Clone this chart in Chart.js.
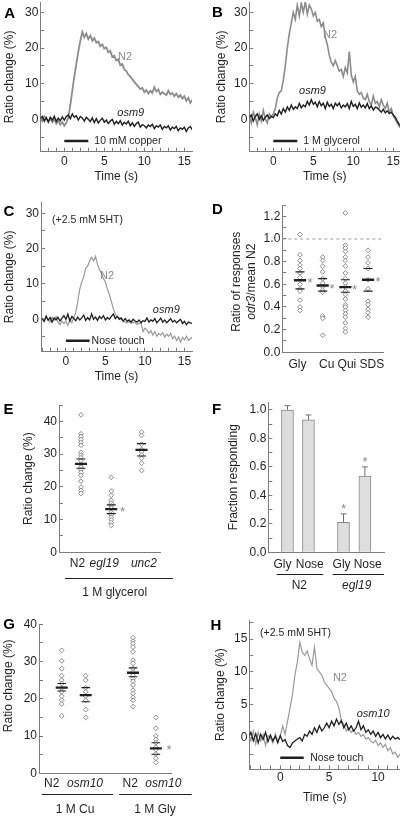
<!DOCTYPE html>
<html>
<head>
<meta charset="utf-8">
<script src="https://cdn.jsdelivr.net/npm/chart.js@4"></script>
<style>
  body { margin: 0; background: #fff; width: 400px; height: 816px; position: relative; overflow: hidden; }
  canvas { position: absolute; }
</style>
</head>
<body>
<canvas id="pA" width="200" height="200" style="left:0;top:0"></canvas>
<canvas id="pB" width="200" height="200" style="left:200px;top:0"></canvas>
<canvas id="pC" width="200" height="200" style="left:0;top:200px"></canvas>
<canvas id="pD" width="200" height="200" style="left:200px;top:200px"></canvas>
<canvas id="pE" width="200" height="210" style="left:0;top:400px"></canvas>
<canvas id="pF" width="200" height="210" style="left:200px;top:400px"></canvas>
<canvas id="pG" width="200" height="206" style="left:0;top:610px"></canvas>
<canvas id="pH" width="200" height="206" style="left:200px;top:610px"></canvas>
<script>
// ---- data ----
const DT = 0.25; // sampling step of the traces, s

// A: 10 mM copper, traces start at -3 s
const a_t0 = -3;
const a_N2 = [0.5, -0.5, 0.8, 0.2, -0.6, 0.3, -0.8, 0, -1.2, -0.4, -1.5, -0.8,
  -1.8, -1.0, 0.5, 4, 8, 12, 15.5, 19, 22, 24.5, 23, 24,
  22.5, 23.5, 22, 22.8, 21.5, 21.8, 20.5, 21, 19.8, 20.2, 18.8, 19.2,
  17.5, 17.8, 16.5, 16.8, 15.2, 15.5, 14, 13.5, 12.5, 12, 11.2, 10.5,
  9.8, 9.2, 8.5, 8.8, 7.6, 8.2, 7.2, 8.0, 7.4, 9.0, 7.8, 8.4,
  7.0, 7.6, 7.2, 6.8, 8.0, 7.0, 7.4, 6.5, 7.2, 6.2, 6.8, 5.8,
  6.5, 5.2, 6.0, 4.6, 5.4];
const a_osm9 = [0.2, 0.8, -0.5, 0.5, -0.8, 0.6, -0.2, 0.9, -0.6, 0.3, -0.4, 0.7,
  -0.2, 0.8, 1.2, 0.2, 1.5, 0.6, 1.0, -0.2, 0.8, 0.4, -0.5, 0.6,
  0.0, -0.6, 0.4, -0.9, 0.2, -1.0, -0.3, 0.3, -0.8, -0.2, -1.2, -0.5,
  0.0, -1.4, -0.6, -1.2, -0.4, -1.6, -0.8, -1.3, -0.5, -1.8, -1.0, -2.0,
  -1.2, -0.8, -2.2, -1.5, -1.8, -2.4, -1.6, -2.0, -1.4, -2.6, -1.8, -2.2,
  -1.6, -2.8, -2.0, -2.4, -1.8, -3.0, -2.2, -2.6, -2.0, -3.2, -2.4, -2.8,
  -2.2, -3.4, -2.4, -2.0, -3.0];

// B: 1 M glycerol
const b_t0 = -3;
const b_N2 = [1.0, -1.0, 2.0, 0.5, -1.5, 1.5, -0.5, 2.5, 0.0, -1.0, 1.5, 0.8,
  1.5, 3.0, 6.0, 7.5, 8.0, 11.0, 15.0, 20.0, 24.0, 27.0, 30.0, 28.0,
  32.0, 29.0, 32.5, 30.0, 33.0, 29.5, 32.0, 31.0, 29.0, 30.0, 27.5, 28.0,
  26.0, 27.0, 23.0, 21.0, 18.0, 16.0, 15.0, 16.5, 15.0, 13.5, 14.0, 12.0,
  14.5, 13.0, 19.0, 12.5, 10.5, 12.0, 8.0, 7.0, 7.5, 6.0, 5.5, 7.0,
  5.0, 4.0, 6.5, 4.5, 5.0, 3.5, 5.5, 4.0, 3.0, 4.5, 2.0, 3.0,
  1.0, 0.0, -1.0, -2.0, -2.5];
const b_osm9 = [0.5, 1.2, -0.5, 0.8, 1.5, 0.0, 1.0, -0.3, 0.6, 1.2, 0.2, 0.8,
  0.5, 1.5, 1.0, 2.5, 1.5, 3.0, 2.0, 3.5, 2.5, 4.0, 2.8, 3.5,
  3.0, 4.5, 3.2, 4.0, 3.5, 5.0, 4.0, 5.5, 4.2, 4.8, 3.5, 5.0,
  3.8, 4.5, 3.0, 4.8, 3.6, 4.2, 3.0, 4.5, 3.8, 4.6, 3.2, 4.0,
  3.5, 4.4, 3.0, 5.0, 3.6, 4.2, 3.0, 4.6, 3.4, 4.0, 3.2, 4.4,
  3.0, 3.8, 2.6, 3.4, 3.2, 2.6, 2.0, 2.8, 1.8, 2.4, 1.6, 2.0,
  1.2, 0.6, -0.5, -1.5, -2.0];

// C: nose touch (+2.5 mM 5HT)
const c_t0 = -3;
const c_N2 = [0.5, -0.5, 1.0, 0.0, -0.8, 0.6, -0.3, 0.8, -0.8, -1.5, -0.5, -1.2,
  -0.5, -1.8, 0.0, -1.0, 0.5, 2.0, 5.0, 8.5, 10.5, 12.0, 14.5, 15.0,
  16.5, 17.5, 16.5, 17.8, 15.5, 14.0, 13.0, 11.5, 10.5, 8.5, 7.0, 5.0,
  3.0, 1.5, 0.5, 0.5, 0.0, -0.5, -0.8, -1.0, -0.6, -1.2, -0.8, -1.0,
  -1.5, -1.2, -1.0, -3.5, -2.5, -3.0, -4.0, -3.2, -4.5, -3.5, -4.8, -4.0,
  -4.5, -3.8, -5.0, -4.2, -4.8, -4.0, -5.5, -4.8, -6.0, -5.0, -6.5, -5.2,
  -5.8, -4.8, -6.0, -5.5, -5.0];
const c_osm9 = [0.2, -0.6, 0.8, -0.3, 0.5, -0.8, 0.4, -0.2, 0.6, -0.5, 0.3, 1.0,
  0.0, 1.5, -0.5, 0.8, 0.2, -0.4, 0.6, -0.2, 0.4, 1.2, -0.3, 0.5,
  -0.2, 1.5, 0.0, 0.6, -0.3, 0.8, 0.2, 1.0, -0.2, 0.5, 0.0, 0.8,
  1.5, 0.2, 0.8, 0.0, 0.4, -0.5, 0.2, -0.6, -0.2, -0.8, 0.0, -0.5,
  -0.8, -0.2, -1.0, -0.4, -0.6, 0.4, -0.8, -0.2, -0.6, 0.2, -1.0, -0.4,
  0.3, -0.8, -0.2, -1.0, -0.4, 0.2, -0.8, -0.3, -1.0, -0.5, 0.0, -1.2,
  -0.6, -1.5, -0.8, -1.0, -1.2];

// D: odr3 / mean N2
const d_groups = ['Gly', 'Cu', 'Qui', 'SDS'];
const d_pos = [1, 2, 3, 4];
const d_labelPos = [0.89, 2.18, 3.07, 4.17];
const d_Gly = [1.04, 0.86, 0.81, 0.77, 0.74, 0.70, 0.66, 0.60, 0.56, 0.54, 0.46, 0.40, 0.37];
const d_Cu = [0.84, 0.81, 0.76, 0.71, 0.65, 0.61, 0.58, 0.55, 0.53, 0.32, 0.30, 0.15];
const d_Qui = [1.23, 0.945, 0.92, 0.89, 0.84, 0.81, 0.76, 0.70, 0.65, 0.61, 0.58, 0.54, 0.51,
  0.47, 0.42, 0.40, 0.37, 0.34, 0.31, 0.26, 0.21, 0.18];
const d_SDS = [0.90, 0.84, 0.79, 0.74, 0.64, 0.56, 0.45, 0.42, 0.38, 0.35, 0.31];
const d_mean = [0.636, 0.59, 0.575, 0.64];
const d_semHi = [0.71, 0.65, 0.64, 0.74];
const d_semLo = [0.56, 0.54, 0.53, 0.54];

// E: 1 M glycerol
const e_groups = ['N2', 'egl19', 'unc2'];
const e_pos = [1, 2, 3];
const e_labelPos = [0.885, 1.766, 3.08];
const e_N2 = [42, 36.2, 35.4, 34.4, 33.5, 32.7, 30.5, 29.7, 28.9, 27.9, 26.9, 26, 25.2, 24.4, 23.5, 21.7, 19.9, 18.9, 18];
const e_egl19 = [22.9, 18.7, 17.4, 15.9, 15, 14.2, 13.5, 12.2, 11.5, 10.7, 9.9, 9, 8.2];
const e_unc2 = [36.7, 35.7, 33, 31.4, 30.7, 29.7, 28.7, 27.2, 25];
const e_mean = [27, 13.2, 31.3];
const e_semHi = [28.5, 14.5, 33.2];
const e_semLo = [25.7, 11.8, 29.4];

// F: fraction responding
const f_labels = ['Gly', 'Nose', 'Gly', 'Nose'];
const f_pos = [1, 2, 3.67, 4.69];
const f_labelPos = [0.76, 2.06, 3.58, 4.82];
const f_frac = [1.0, 0.93, 0.21, 0.535];
const f_err = [0.03, 0.035, 0.06, 0.065];

// G: osm10
const g_labels = ['N2', 'osm10', 'N2', 'osm10'];
const g_pos = [1, 2, 3.97, 4.92];
const g_labelPos = [0.583, 1.97, 3.85, 5.23];
const g_N2Cu = [33, 30.2, 28.1, 26.2, 25, 24.1, 22.8, 21.9, 20.7, 19.6, 18.6, 15.4];
const g_osm10Cu = [26.2, 25, 23, 21.9, 20.7, 19.6, 17.1, 15];
const g_N2Gly = [36.4, 35.5, 34.8, 33.9, 32.6, 30.4, 29.5, 28.1, 27.2, 26.3, 25.4, 24.7, 23.7, 22.3, 21.4, 20.4, 19.6, 17.9];
const g_osm10Gly = [15, 12.1, 10, 9.1, 8.2, 7, 6.3, 5.2, 4, 2.9];
const g_mean = [23, 21, 27, 6.7];
const g_semHi = [24.1, 23, 28.3, 8.2];
const g_semLo = [22.1, 19.2, 25.9, 5.1];

// H: nose touch, osm10 (+2.5 mM 5HT)
const h_t0 = -3.25;
const h_N2 = [0.5, -0.5, 1.0, -1.0, 0.8, -0.5, 0.5, -1.2, 0.3, 0.0, -0.8, 0.6, -0.5,
  0.2, 1.8, 0.5, 2.5, 4.5, 6.5, 9.5, 11.5, 14.5, 13.0, 12.5, 13.2,
  12.0, 11.0, 13.8, 10.5, 10.0, 9.5, 8.5, 8.0, 7.5, 7.0, 6.0, 5.5,
  4.5, 2.5, 2.0, 1.0, 1.5, 0.8, 1.2, 0.5, 0.8, 0.2, 0.5, -0.2,
  0.0, -0.5, -0.8, -0.4, -1.2, -0.8, -1.5, -1.0, -2.0, -1.5, -2.5, -2.2,
  -3.0, -2.5];
const h_osm10 = [0.0, 0.8, -0.5, 0.6, -0.8, 0.5, -0.3, 0.8, -0.6, 0.4, -0.5, 0.2, -0.8,
  0.3, -0.6, -0.3, -1.2, -1.5, -0.8, -0.5, -0.2, 0.0, -0.5, 0.5, 0.2,
  1.0, 0.5, 1.5, 0.8, 1.8, 1.0, 1.5, 2.2, 1.5, 2.5, 1.8, 2.8,
  2.0, 2.6, 1.5, 2.2, 1.2, 1.8, 1.0, 1.5, 2.5, 1.2, 1.8, 0.8,
  1.2, 0.5, 1.0, 0.2, 0.8, 0.0, 0.5, -0.2, 0.4, -0.3, 0.2, -0.2,
  0.0, -0.3];

// ---- styling / helpers ----
const FAMILY = "'Liberation Sans', Arial, Helvetica, sans-serif";
const AXIS = '#7d7d7d';
const INK = '#231f20';
const GREY = '#8c8c8c';
const DIAMOND = '#8a8a8a';

Chart.defaults.font.family = FAMILY;
Chart.defaults.font.size = 12;
Chart.defaults.color = INK;

const notesPlugin = {
  id: 'notes',
  afterDraw(chart, args, opts) {
    const ctx = chart.ctx;
    (opts.lines || []).forEach(l => {
      ctx.save();
      ctx.strokeStyle = INK;
      ctx.lineWidth = 1;
      ctx.beginPath();
      ctx.moveTo(l[0], l[1] + 0.5);
      ctx.lineTo(l[2], l[1] + 0.5);
      ctx.stroke();
      ctx.restore();
    });
    (opts.items || []).forEach(n => {
      const x = n.px ? n.x : chart.scales.x.getPixelForValue(n.x);
      const y = (n.px ? n.y : chart.scales.y.getPixelForValue(n.y)) + (n.dy || 0);
      const size = n.size || 11;
      const runs = Array.isArray(n.text) ? n.text : [[n.text, n.style || 'normal']];
      const fontOf = st => st + ' ' + (n.weight || 'normal') + ' ' + size + 'px ' + FAMILY;
      ctx.save();
      ctx.translate(x, y);
      if (n.rot) ctx.rotate(n.rot);
      ctx.fillStyle = n.color || INK;
      ctx.textBaseline = 'middle';
      ctx.textAlign = 'left';
      let total = 0;
      runs.forEach(r => { ctx.font = fontOf(r[1]); total += ctx.measureText(r[0]).width; });
      let cx = n.align === 'left' ? 0 : (n.align === 'right' ? -total : -total / 2);
      runs.forEach(r => {
        ctx.font = fontOf(r[1]);
        ctx.fillText(r[0], cx, 0);
        cx += ctx.measureText(r[0]).width;
      });
      ctx.restore();
    });
  }
};
Chart.register(notesPlugin);

function onGrid(v, every) {
  const q = v / every;
  return Math.abs(q - Math.round(q)) < 1e-6;
}

function numAxis(min, max, step, every, digits, pad) {
  return {
    type: 'linear', min: min, max: max,
    border: { display: true, color: AXIS, width: 1 },
    grid: { display: true, drawOnChartArea: false, drawTicks: true, tickLength: -4, color: AXIS, lineWidth: 1 },
    ticks: {
      stepSize: step, includeBounds: false, autoSkip: false, maxTicksLimit: 500, maxRotation: 0,
      padding: pad, color: INK, font: { size: 12 },
      callback: v => onGrid(v, every) ? v.toFixed(digits) : ''
    }
  };
}

function catAxis(min, max, pos, labels, italic, pad) {
  return {
    type: 'linear', min: min, max: max, offset: false,
    border: { display: true, color: AXIS, width: 1 },
    grid: { display: false, drawTicks: false, offset: false },
    afterBuildTicks: s => { s.ticks = pos.map(v => ({ value: v })); },
    ticks: {
      autoSkip: false, maxRotation: 0, padding: pad, color: INK,
      font: c => ({ family: FAMILY, size: 12, style: italic[c.index] ? 'italic' : 'normal' }),
      callback: (v, i) => labels[i]
    }
  };
}

function title(text, pad) {
  return { display: true, text: text, color: INK, font: { size: 12 }, padding: pad };
}

function trace(t0, vals, color, width) {
  return {
    type: 'line', data: vals.map((v, i) => ({ x: t0 + i * DT, y: v })),
    borderColor: color, borderWidth: width, pointRadius: 0, tension: 0, fill: false
  };
}

function stim(x0, x1, yv) {
  return { type: 'line', data: [{ x: x0, y: yv }, { x: x1, y: yv }], borderColor: INK, borderWidth: 2.5, pointRadius: 0 };
}

function segs(pos, vals, half, width) {
  const pts = [];
  pos.forEach((p, i) => pts.push({ x: p - half, y: vals[i] }, { x: p + half, y: vals[i] }, { x: p, y: null }));
  return { type: 'line', data: pts, borderColor: INK, borderWidth: width, pointRadius: 0, spanGaps: false };
}

function dots(pos, groups) {
  const pts = [];
  groups.forEach((vals, i) => vals.forEach(v => pts.push({ x: pos[i], y: v })));
  return {
    type: 'line', data: pts, showLine: false, pointStyle: 'rectRot', pointRadius: 2.4,
    pointBorderColor: DIAMOND, pointBackgroundColor: '#fff', pointBorderWidth: 1
  };
}

function build(id, g, type, datasets, x, y, notes) {
  const cv = document.getElementById(id);
  const W = cv.width, H = cv.height;
  x.afterFit = s => { s.height = H - g.B; s.paddingLeft = 0; s.paddingRight = 0; };
  y.afterFit = s => { s.width = g.L; s.paddingTop = 0; s.paddingBottom = 0; };
  return new Chart(cv, {
    type: type,
    data: { datasets: datasets },
    options: {
      responsive: false, animation: false, events: [],
      layout: { padding: { left: 0, top: g.T, right: W - g.R, bottom: 0 } },
      plugins: { legend: { display: false }, tooltip: { enabled: false }, notes: notes },
      scales: { x: x, y: y }
    }
  });
}

function letter(ch, x, y) {
  return { px: true, x: x, y: y, text: ch, size: 15, weight: 'bold', color: '#000' };
}
const ROT = -Math.PI / 2;

// ---- A ----
(function () {
  const x = numAxis(-3, 15.96, 1, 5, 0, 6.8); x.title = title('Time (s)', { top: 0, bottom: 16 });
  const y = numAxis(-9.08, 32.9, 5, 10, 0, 6); y.title = title('Ratio change (%)', { top: 2.8, bottom: 0 });
  build('pA', { L: 40.3, T: 2, R: 192, B: 151.7 }, 'line',
    [stim(0, 3, -6.1), trace(a_t0, a_osm9, INK, 1.4), trace(a_t0, a_N2, GREY, 1.8)], x, y,
    { items: [letter('A', 9.7, 13.5),
      { x: 7.6, y: 17.4, text: 'N2', color: '#8a8a8a' },
      { x: 8.3, y: 1.7, text: 'osm9', style: 'italic' },
      { x: 3.75, y: -6.1, text: '10 mM copper', align: 'left', size: 10.5 }] });
})();

// ---- B ----
(function () {
  const x = numAxis(-3, 15.84, 1, 5, 0, 6.8); x.title = title('Time (s)', { top: 0, bottom: 16 });
  const y = numAxis(-9.08, 32.9, 5, 10, 0, 6); y.title = title('Ratio change (%)', { top: 14.5, bottom: 0 });
  build('pB', { L: 49.3, T: 2, R: 200, B: 151.7 }, 'line',
    [stim(0, 3, -6.1), trace(b_t0, b_osm9, INK, 1.4), trace(b_t0, b_N2, GREY, 1.6)], x, y,
    { items: [letter('B', 17.5, 13.3),
      { x: 7.1, y: 23.6, text: 'N2', color: '#8a8a8a' },
      { x: 4.9, y: 8.0, text: 'osm9', style: 'italic' },
      { x: 3.75, y: -6.1, text: '1 M glycerol', align: 'left', size: 10.5 }] });
})();

// ---- C ----
(function () {
  const x = numAxis(-3.15, 15.95, 1, 5, 0, 6.8); x.title = title('Time (s)', { top: 0, bottom: 16 });
  const y = numAxis(-9.18, 33.2, 5, 10, 0, 6); y.title = title('Ratio change (%)', { top: 2.8, bottom: 0 });
  build('pC', { L: 41, T: 2, R: 192, B: 151.7 }, 'line',
    [stim(0, 3, -6.1), trace(c_t0, c_osm9, INK, 1.3), trace(c_t0, c_N2, '#9a9a9a', 1.2)], x, y,
    { items: [letter('C', 9, 11.7),
      { px: true, x: 52, y: 20, text: '(+2.5 mM 5HT)', align: 'left', size: 10.5 },
      { x: 5.2, y: 12.3, text: 'N2', color: '#8a8a8a' },
      { x: 12.7, y: 2.6, text: 'osm9', style: 'italic' },
      { x: 3.25, y: -6.1, text: 'Nose touch', align: 'left', size: 10.5 }] });
})();

// ---- D ----
(function () {
  const x = catAxis(0.22, 4.66, d_labelPos, d_groups, [false, false, false, false], 4.8);
  const y = numAxis(0, 1.3, 0.1, 0.2, 1, 6);
  const dashed = { type: 'line', data: [{ x: 0.22, y: 1 }, { x: 4.66, y: 1 }], borderColor: '#9a9a9a',
    borderWidth: 1, borderDash: [3, 3], pointRadius: 0 };
  build('pD', { L: 82.3, T: 2.5, R: 183, B: 152.3 }, 'line',
    [segs(d_pos, d_mean, 0.27, 2.4), segs(d_pos, d_semHi, 0.2, 1.1), segs(d_pos, d_semLo, 0.2, 1.1),
     dots(d_pos, [d_Gly, d_Cu, d_Qui, d_SDS]), dashed], x, y,
    { items: [letter('D', 17.5, 10),
      { px: true, x: 36.7, y: 81.7, rot: ROT, text: 'Ratio of responses', size: 12 },
      { px: true, x: 51.5, y: 81.7, rot: ROT, text: [['odr3', 'italic'], ['/mean N2', 'normal']], size: 12 },
      { x: 1.44, y: 0.63, dy: 3, text: '*', size: 13, color: '#8a8a8a' },
      { x: 2.41, y: 0.58, dy: 3, text: '*', size: 13, color: '#8a8a8a' },
      { x: 3.41, y: 0.57, dy: 3, text: '*', size: 13, color: '#8a8a8a' },
      { x: 4.44, y: 0.64, dy: 3, text: '*', size: 13, color: '#8a8a8a' }] });
})();

// ---- E ----
(function () {
  const x = catAxis(0.274, 3.61, e_labelPos, e_groups, [false, true, true], 4.5);
  const y = numAxis(0, 45, 5, 10, 0, 6); y.title = title('Ratio change (%)', { top: 21.1, bottom: 0 });
  build('pE', { L: 59, T: 2.3, R: 160, B: 152.3 }, 'line',
    [segs(e_pos, e_mean, 0.2, 2.4), segs(e_pos, e_semHi, 0.15, 1.1), segs(e_pos, e_semLo, 0.15, 1.1),
     dots(e_pos, [e_N2, e_egl19, e_unc2])], x, y,
    { lines: [[65, 178, 173]],
      items: [letter('E', 8.5, 10),
      { x: 2.37, y: 13, dy: 3, text: '*', size: 13, color: '#8a8a8a' },
      { px: true, x: 114.7, y: 192.7, text: '1 M glycerol', size: 12 }] });
})();

// ---- F ----
(function () {
  const x = catAxis(0.086, 5.6, f_labelPos, f_labels, [false, false, false, false], 5.5);
  const y = numAxis(0, 1.056, 0.1, 0.2, 1, 6); y.title = title('Fraction responding', { top: 26.1, bottom: 0 });
  const hi = f_frac.map((v, i) => v + f_err[i]);
  const stems = [];
  f_pos.forEach((p, i) => stems.push({ x: p, y: f_frac[i] }, { x: p, y: hi[i] }, { x: p, y: null }));
  build('pF', { L: 68.3, T: 2, R: 184, B: 152.3 }, 'bar',
    [{ type: 'line', data: stems, borderColor: '#6f6f6f', borderWidth: 1, pointRadius: 0, spanGaps: false },
     Object.assign(segs(f_pos, hi, 0.14, 1), { borderColor: '#6f6f6f' }),
     { type: 'bar', data: f_pos.map((p, i) => ({ x: p, y: f_frac[i] })), barThickness: 12,
       backgroundColor: '#dedede', borderColor: '#8a8a8a', borderWidth: 1 }], x, y,
    { lines: [[76.7, 174, 123.3], [132.7, 174, 184]],
      items: [letter('F', 16.7, 10),
      { x: 3.67, y: 0.32, dy: 3, text: '*', size: 13, color: '#8a8a8a' },
      { x: 4.69, y: 0.65, dy: 3, text: '*', size: 13, color: '#8a8a8a' },
      { px: true, x: 99.3, y: 185.7, text: 'N2', size: 12 },
      { px: true, x: 156.7, y: 185.7, text: 'egl19', style: 'italic', size: 12 }] });
})();

// ---- G ----
(function () {
  const x = catAxis(0.054, 5.58, g_labelPos, g_labels, [false, true, false, true], 3.5);
  const y = numAxis(0, 40, 5, 10, 0, 6);
  build('pG', { L: 39, T: 14.3, R: 171.7, B: 163.3 }, 'line',
    [segs(g_pos, g_mean, 0.25, 2.4), segs(g_pos, g_semHi, 0.18, 1.1), segs(g_pos, g_semLo, 0.18, 1.1),
     dots(g_pos, [g_N2Cu, g_osm10Cu, g_N2Gly, g_osm10Gly])], x, y,
    { lines: [[41.7, 184, 113.3], [119.3, 184, 191.7]],
      items: [letter('G', 9.2, 15),
      { px: true, x: 8.3, y: 75.8, rot: ROT, text: 'Ratio change (%)', size: 12 },
      { x: 5.47, y: 6.9, dy: 3, text: '*', size: 13, color: '#8a8a8a' },
      { px: true, x: 75, y: 199.5, text: '1 M Cu', size: 12 },
      { px: true, x: 155, y: 199.5, text: '1 M Gly', size: 12 }] });
})();

// ---- H ----
(function () {
  const x = numAxis(-3.16, 12.24, 1, 5, 0, 5.2); x.title = title('Time (s)', { top: 0, bottom: 11.1 });
  const y = numAxis(-4.82, 17.9, 2.5, 5, 0, 6); y.title = title('Ratio change (%)', { top: 13.5, bottom: 0 });
  build('pH', { L: 49.3, T: 10, R: 200, B: 159.3 }, 'line',
    [stim(0, 2.4, -3.05), trace(h_t0, h_osm10, INK, 1.3), trace(h_t0, h_N2, '#9a9a9a', 1.2)], x, y,
    { items: [letter('H', 15.8, 16),
      { px: true, x: 60, y: 22.7, text: '(+2.5 mM 5HT)', align: 'left', size: 10.5 },
      { x: 6.1, y: 9.1, text: 'N2', color: '#8a8a8a' },
      { x: 9.5, y: 3.6, text: 'osm10', style: 'italic' },
      { x: 3.06, y: -3.05, text: 'Nose touch', align: 'left', size: 10.5 }] });
})();
</script>
</body>
</html>
